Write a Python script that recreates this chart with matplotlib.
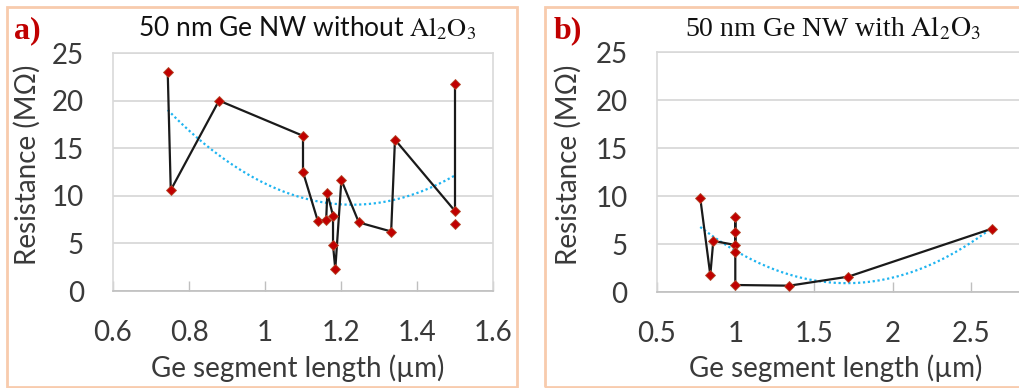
import numpy as np
import matplotlib
matplotlib.use("Agg")
import matplotlib.pyplot as plt
from matplotlib.patches import Rectangle

# panel a: 50 nm Ge NW without Al2O3 (drawing order of the black line)
len_a = [0.744, 0.752, 0.879, 1.100, 1.100, 1.139, 1.161, 1.164, 1.179, 1.179, 1.185,
         1.201, 1.247, 1.332, 1.342, 1.500, 1.500]
res_a = [23.0, 10.6, 20.0, 16.3, 12.5, 7.35, 7.5, 10.3, 7.9, 4.8, 2.3,
         11.65, 7.2, 6.25, 15.9, 8.4, 21.7]
# point not joined by the line
len_a_solo = [1.500]
res_a_solo = [7.0]

# panel b: 50 nm Ge NW with Al2O3
len_b = [0.777, 0.841, 0.860, 1.000, 1.000, 1.000, 1.000, 1.000, 1.344, 1.719, 2.633]
res_b = [9.82, 1.8, 5.35, 4.93, 7.8, 6.25, 4.17, 0.76, 0.69, 1.63, 6.63]

yticks = [0, 5, 10, 15, 20, 25]
xticks_a = [0.6, 0.8, 1.0, 1.2, 1.4, 1.6]
xticklabels_a = ["0.6", "0.8", "1", "1.2", "1.4", "1.6"]
xticks_b = [0.5, 1.0, 1.5, 2.0, 2.5]
xticklabels_b = ["0.5", "1", "1.5", "2", "2.5"]

plt.rcParams['font.family'] = ['Lato', 'DejaVu Sans']
plt.rcParams['mathtext.fontset'] = 'stix'

W, H = 1019, 388
fig = plt.figure(figsize=(W / 100, H / 100), dpi=100)

txt = '#3a3a3a'
grid = '#d9d9d9'
red = '#c00000'
frame = '#f8cbad'


def px(x0, y0, x1, y1):
    # pixel box (top-left origin) -> figure fraction rect
    return [x0 / W, 1 - y1 / H, (x1 - x0) / W, (y1 - y0) / H]


def style(ax, xt, xtl, xlim):
    ax.set_xlim(*xlim)
    ax.set_ylim(0, 25)
    ax.set_yticks(yticks)
    ax.set_xticks(xt)
    ax.set_xticklabels(xtl)
    ax.grid(axis='y', color=grid, lw=1.3)
    ax.set_axisbelow(True)
    for s in ax.spines.values():
        s.set_color(grid)
        s.set_linewidth(1.2)
    ax.spines['bottom'].set_color('#bfbfbf')
    ax.tick_params(axis='y', length=0, pad=21, labelsize=20, labelcolor=txt)
    ax.tick_params(axis='x', direction='in', length=7, width=1, color='#bfbfbf',
                   pad=21, labelsize=20, labelcolor=txt)
    ax.set_ylabel('Resistance (MΩ)', fontsize=20, color=txt)
    ax.set_xlabel('Ge segment length (µm)', fontsize=20, color=txt)


def draw(ax, x, y, xs=None, ys=None):
    allx = np.array(x + (xs or []))
    ally = np.array(y + (ys or []))
    c = np.polyfit(allx, ally, 2)
    tx = np.linspace(allx.min(), allx.max(), 200)
    ax.plot(tx, np.polyval(c, tx), color='#1fb4f0', lw=1.6, ls=(0, (1, 1.2)), zorder=2)
    ax.plot(x, y, color='#1a1a1a', lw=1.6, zorder=3)
    ax.plot(x, y, ls='none', marker='D', ms=5.5, mfc=red, mec='#b34a2a', mew=0.6, zorder=4)
    if xs:
        ax.plot(xs, ys, ls='none', marker='D', ms=5.5, mfc=red, mec='#b34a2a', mew=0.6, zorder=4)


# panel frames
fig.patches.append(Rectangle((7 / W, 1 - 387 / H), 510 / W, 380 / H, transform=fig.transFigure,
                             fill=False, ec=frame, lw=2))
fig.patches.append(Rectangle((545 / W, 1 - 387 / H), 500 / W, 380 / H, transform=fig.transFigure,
                             fill=False, ec=frame, lw=2))

ax1 = fig.add_axes(px(113, 53, 493, 291))
style(ax1, xticks_a, xticklabels_a, (0.6, 1.6))
draw(ax1, len_a, res_a, len_a_solo, res_a_solo)
ax1.yaxis.set_label_coords(-0.19, 0.53)
ax1.xaxis.set_label_coords(0.487, -0.265)

ax2 = fig.add_axes(px(656.7, 52.3, 1049.7, 292.3))
style(ax2, xticks_b, xticklabels_b, (0.5, 3.0))
draw(ax2, len_b, res_b)
ax2.yaxis.set_label_coords(-0.19, 0.53)
ax2.xaxis.set_label_coords(0.456, -0.26)

fig.text(307 / W, 1 - 28 / H, r'50 nm Ge NW without $\mathrm{Al_2O_3}$', fontsize=19,
         ha='center', va='center', color='#111111')
fig.text(833 / W, 1 - 28 / H, r'50 nm Ge NW with $\mathrm{Al_2O_3}$', fontsize=20,
         ha='center', va='center', color='#111111', family='Liberation Serif')

fig.text(14 / W, 1 - 31 / H, 'a)', fontsize=23, fontweight='bold', color=red,
         family='Liberation Serif', ha='left', va='center')
fig.text(554 / W, 1 - 31 / H, 'b)', fontsize=23, fontweight='bold', color=red,
         family='Liberation Serif', ha='left', va='center')

fig.savefig('out.png', dpi=100)
